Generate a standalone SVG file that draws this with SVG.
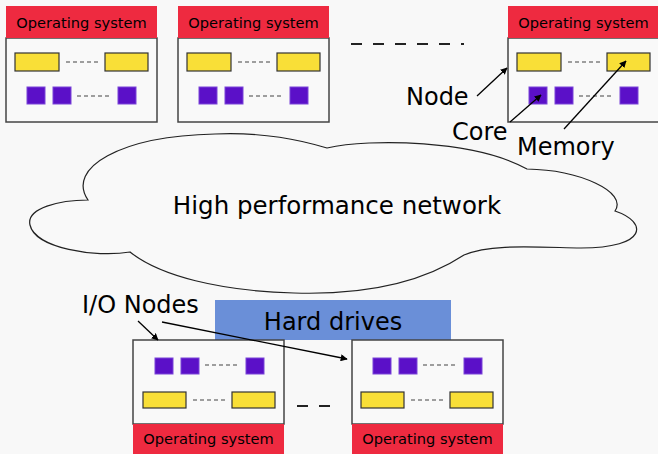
<svg xmlns="http://www.w3.org/2000/svg" width="658" height="454" viewBox="0 0 658 454">
<defs>
<style>
text{font-family:"DejaVu Sans","Liberation Sans",sans-serif;fill:#000}
.os{font-size:14.6px;text-anchor:middle}
.lbl{font-size:24px}
.hdr{fill:#ee2a40}
.body{fill:#f9f9f9;stroke:#444;stroke-width:1.5}
.mem{fill:#f9df37;stroke:#333;stroke-width:1.2}
.core{fill:#5b10c8;stroke:#7a44d8;stroke-width:1}
.dash{stroke:#444;stroke-width:1.2;stroke-dasharray:4 3;fill:none}
.conn{stroke:#000;stroke-width:1.3;fill:none;marker-end:url(#ah)}
</style>
<marker id="ah" viewBox="0 0 10 10" refX="9" refY="5" markerWidth="7" markerHeight="7" markerUnits="userSpaceOnUse" orient="auto">
<path d="M0,0 L10,5 L0,10 z" fill="#000"/>
</marker>
<g id="topcontent">
<rect class="mem" x="9" y="53" width="44" height="18"/>
<line class="dash" x1="60" y1="62" x2="94" y2="62"/>
<rect class="mem" x="99" y="53" width="43" height="18"/>
<rect class="core" x="21" y="87" width="18" height="17"/>
<rect class="core" x="47" y="87" width="18" height="17"/>
<line class="dash" x1="71" y1="96" x2="106" y2="96"/>
<rect class="core" x="112" y="87" width="18" height="17"/>
</g>
<g id="botcontent">
<rect class="core" x="22" y="18" width="18" height="16"/>
<rect class="core" x="48" y="18" width="18" height="16"/>
<line class="dash" x1="72" y1="25" x2="106" y2="25"/>
<rect class="core" x="113" y="18" width="18" height="16"/>
<rect class="mem" x="10" y="52" width="43" height="16"/>
<line class="dash" x1="60" y1="60" x2="94" y2="60"/>
<rect class="mem" x="99" y="52" width="43" height="16"/>
</g>
</defs>
<rect x="0" y="0" width="658" height="454" fill="#f8f8f8"/>

<g id="node1">
<rect class="body" x="6" y="38" width="151" height="84"/>
<rect class="hdr" x="6" y="6" width="151" height="32"/>
<text class="os" x="81.5" y="28">Operating system</text>
<use href="#topcontent" x="6" y="0"/>
</g>
<g id="node2">
<rect class="body" x="178" y="38" width="151" height="84"/>
<rect class="hdr" x="178" y="6" width="151" height="32"/>
<text class="os" x="253.5" y="28">Operating system</text>
<use href="#topcontent" x="178" y="0"/>
</g>
<g id="node3">
<rect class="body" x="508" y="38" width="151" height="84"/>
<rect class="hdr" x="508" y="6" width="151" height="32"/>
<text class="os" x="583.5" y="28">Operating system</text>
<use href="#topcontent" x="508" y="0"/>
</g>
<line x1="351" y1="44" x2="464" y2="44" stroke="#222" stroke-width="2" stroke-dasharray="11 11"/>

<g id="network">
<path d="M88,200 C66,168 120,136 215,134 C265,132 300,140 327,148 C370,138 475,140 527,169 C580,170 628,192 615,211 C648,222 648,248 581,248 C530,247 490,244 464,255 C420,284 360,295 294,293 C220,291 160,276 130,252 C95,258 35,248 30,225 C26,208 60,200 88,200 Z" fill="#f9f9f9" stroke="#222" stroke-width="1.2"/>
<text x="337" y="214" text-anchor="middle" font-size="24.5">High performance network</text>
</g>

<g id="harddrives">
<rect x="215" y="300" width="236" height="40" fill="#6a8fd8"/>
<text class="lbl" x="333" y="330" text-anchor="middle">Hard drives</text>
</g>

<g id="io1">
<rect class="body" x="133" y="340" width="151" height="84"/>
<rect class="hdr" x="133" y="424" width="151" height="32"/>
<text class="os" x="208.5" y="444">Operating system</text>
<use href="#botcontent" x="133" y="340"/>
</g>
<g id="io2">
<rect class="body" x="352" y="340" width="151" height="84"/>
<rect class="hdr" x="352" y="424" width="151" height="32"/>
<text class="os" x="427.5" y="444">Operating system</text>
<use href="#botcontent" x="351" y="340"/>
</g>
<line x1="297" y1="406" x2="331" y2="406" stroke="#222" stroke-width="2" stroke-dasharray="11 11"/>

<g id="labels">
<text class="lbl" x="406" y="105">Node</text>
<text class="lbl" x="452" y="140">Core</text>
<text class="lbl" x="517" y="155">Memory</text>
<text class="lbl" x="82" y="313">I/O Nodes</text>
</g>

<g id="connectors">
<line class="conn" x1="477" y1="96" x2="507" y2="68"/>
<line class="conn" x1="510" y1="122" x2="541" y2="95"/>
<line class="conn" x1="564" y1="129" x2="626" y2="61"/>
<line class="conn" x1="138" y1="321" x2="158" y2="340"/>
<line class="conn" x1="162" y1="322" x2="347" y2="359"/>
</g>
</svg>
